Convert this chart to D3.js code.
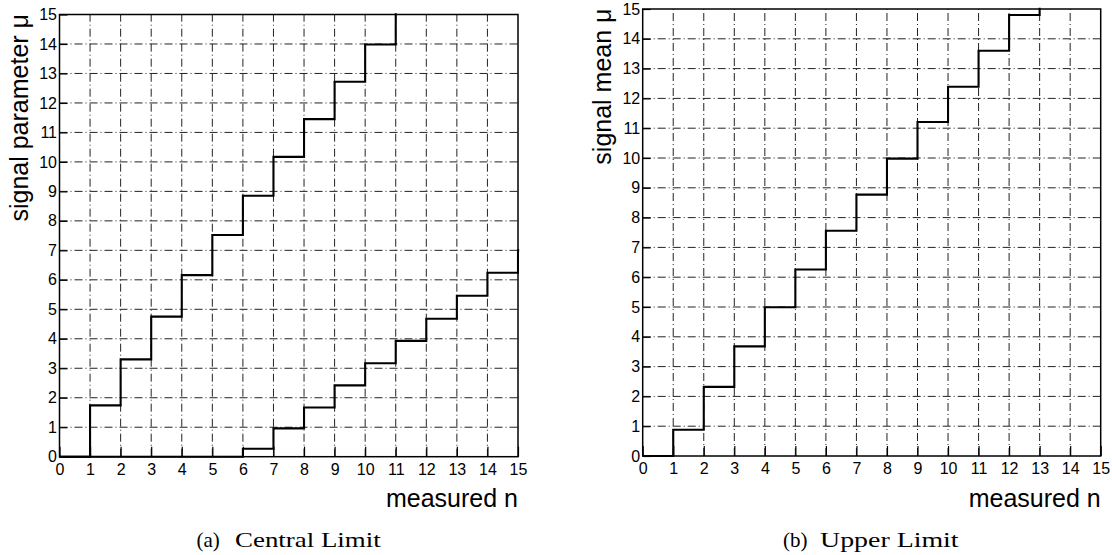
<!DOCTYPE html>
<html><head><meta charset="utf-8">
<script src="https://cdn.jsdelivr.net/npm/d3@7"></script>
<style>body{margin:0;background:#fff} svg{display:block}</style>
</head><body>
<svg id="c" width="1112" height="555"></svg>
<script>
// ---- data ----
const nTicks = d3.range(0, 16);          // measured n tick values 0..15
const muTicks = d3.range(0, 16);         // signal mu tick values 0..15
// (a) central limit band: value of mu boundary for n in [i, i+1)
const centralUpper = [0, 1.74, 3.30, 4.75, 6.16, 7.52, 8.85, 10.17, 11.45, 12.72, 13.98, 15.3];
const centralLower = [0, 0, 0, 0, 0, 0, 0.27, 0.96, 1.67, 2.42, 3.17, 3.93, 4.68, 5.46, 6.24, 7.00];
// (b) upper limit
const upperLimit = [0, 0.88, 2.32, 3.68, 4.99, 6.26, 7.56, 8.77, 9.98, 11.21, 12.39, 13.60, 14.80, 16.0];
const xTitle = "measured n";
const yTitles = ["signal parameter μ", "signal mean μ"];
const captionLabels = ["(a)", "(b)"];
const captionTexts = ["Central Limit", "Upper Limit"];

// ---- layout ----
const svg = d3.select("#c");
const panels = [
  {l: 59.5, r: 518, t: 14.5, b: 456.7, series: [centralUpper, centralLower], yTitle: yTitles[0],
   cap: captionLabels[0], capText: captionTexts[0], capL: 196.5, capBody: 235, capR: 380.7},
  {l: 642.7, r: 1100.7, t: 9, b: 456, series: [upperLimit], yTitle: yTitles[1],
   cap: captionLabels[1], capText: captionTexts[1], capL: 783, capBody: 820, capR: 958.6}
];
const sans = "'Liberation Sans', Arial, Helvetica, sans-serif";
const serif = "'Liberation Serif', 'Times New Roman', serif";

panels.forEach((p, pi) => {
  const x = d3.scaleLinear().domain([0, 15]).range([p.l, p.r]);
  const y = d3.scaleLinear().domain([0, 15]).range([p.b, p.t]);
  const g = svg.append("g");

  // grid
  const grid = g.append("g").attr("stroke", "#222").attr("stroke-width", 1)
    .attr("stroke-dasharray", "8,3,1,3").attr("fill", "none");
  grid.selectAll("line.v").data(nTicks.slice(1, -1)).join("line")
    .attr("x1", d => x(d)).attr("x2", d => x(d)).attr("y1", p.b).attr("y2", p.t);
  grid.selectAll("line.h").data(muTicks.slice(1, -1)).join("line")
    .attr("class", "h")
    .attr("y1", d => y(d)).attr("y2", d => y(d)).attr("x1", p.l).attr("x2", p.r);

  // axes
  const xa = g.append("g").attr("transform", `translate(0,${p.b})`)
    .call(d3.axisBottom(x).tickValues(nTicks).tickSize(-10).tickPadding(7).tickFormat(d3.format("d")));
  const ya = g.append("g").attr("transform", `translate(${p.l},0)`)
    .call(d3.axisLeft(y).tickValues(muTicks).tickSize(-8).tickPadding(2.5).tickFormat(d3.format("d")));
  [xa, ya].forEach(a => {
    a.attr("font-size", null).attr("font-family", null);
    a.select(".domain").remove();
    a.selectAll("line").attr("stroke", "#000").attr("stroke-width", 1.2);
    a.selectAll("text").style("font-family", sans).style("font-size", "16px").attr("fill", "#000");
  });

  // clip (slightly padded so steps lying on the frame stay visible)
  const cid = "clip" + pi;
  svg.append("clipPath").attr("id", cid).append("rect")
    .attr("x", p.l - 1.2).attr("y", p.t - 1.2).attr("width", p.r - p.l + 2.4).attr("height", p.b - p.t + 2.4);

  const line = d3.line().x(d => x(d[0])).y(d => y(d[1])).curve(d3.curveStepAfter);
  p.series.forEach(vals => {
    const pts = vals.map((v, i) => [i, v]);
    pts.push([vals.length, vals[vals.length - 1]]);
    g.append("path").attr("d", line(pts)).attr("fill", "none").attr("stroke", "#000")
      .attr("stroke-width", 2.1).attr("clip-path", `url(#${cid})`);
  });

  // frame
  g.append("rect").attr("x", p.l).attr("y", p.t).attr("width", p.r - p.l).attr("height", p.b - p.t)
    .attr("fill", "none").attr("stroke", "#000").attr("stroke-width", 1.5);

  // titles
  g.append("text").attr("transform", `translate(${p.l - 31.5},${p.t - 0.5}) rotate(-90)`)
    .attr("text-anchor", "end").attr("font-family", sans).attr("font-size", 25).text(p.yTitle);
  g.append("text").attr("x", p.r).attr("y", p.b + 50.5).attr("text-anchor", "end")
    .attr("font-family", sans).attr("font-size", 25).text(xTitle);

  // caption
  g.append("text").attr("x", p.capL).attr("y", 547).attr("font-family", serif).attr("font-size", 21)
    .text(p.cap);
  g.append("text").attr("x", p.capBody).attr("y", 547).attr("font-family", serif).attr("font-size", 21)
    .attr("textLength", p.capR - p.capBody).attr("lengthAdjust", "spacingAndGlyphs").text(p.capText);
});
</script>
</body></html>
